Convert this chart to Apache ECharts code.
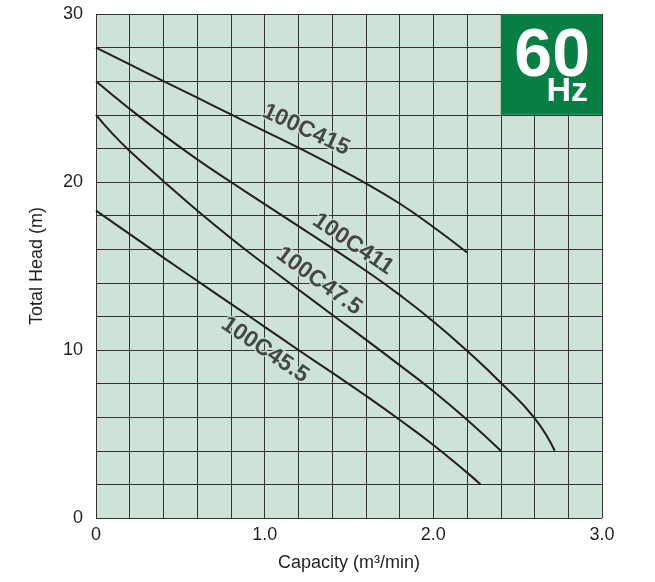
<!DOCTYPE html>
<html>
<head>
<meta charset="utf-8">
<script src="https://cdn.jsdelivr.net/npm/echarts@6/dist/echarts.min.js"></script>
<style>
html,body{margin:0;padding:0;background:#fff;}
#chart{width:655px;height:582px;}
</style>
</head>
<body>
<div id="chart"></div>
<script>
// ---- data ----
const modelNames = ['100C415', '100C411', '100C47.5', '100C45.5'];

const capacity415 = [0, 0.2, 0.4, 0.6, 0.8, 1.0, 1.2, 1.4, 1.6, 1.8, 2.0, 2.2];
const head415     = [28.0, 27.0, 26.0, 25.02, 24.02, 23.03, 22.04, 21.0, 19.92, 18.72, 17.32, 15.8];

const capacity411 = [0, 0.2, 0.4, 0.6, 0.8, 1.0, 1.2, 1.4, 1.6, 1.8, 2.0, 2.2, 2.4, 2.6, 2.72];
const head411     = [26.0, 24.35, 22.8, 21.35, 20.0, 18.68, 17.37, 16.06, 14.72, 13.28, 11.7, 9.95, 8.05, 5.95, 4.0];

const capacity475 = [0, 0.1, 0.2, 0.4, 0.6, 0.8, 1.0, 1.2, 1.4, 1.6, 1.8, 2.0, 2.2, 2.4];
const head475     = [24.0, 22.85, 21.85, 20.05, 18.3, 16.65, 15.1, 13.6, 12.1, 10.62, 9.1, 7.55, 5.85, 4.0];

const capacity455 = [0, 0.2, 0.4, 0.6, 0.8, 1.0, 1.2, 1.4, 1.6, 1.8, 2.0, 2.2, 2.28];
const head455     = [18.3, 16.9, 15.5, 14.12, 12.75, 11.38, 10.0, 8.65, 7.28, 5.85, 4.35, 2.7, 2.0];

const xTickValues = [0, 1, 2, 3];
const xTickLabels = ['0', '1.0', '2.0', '3.0'];
const yTickValues = [0, 10, 20, 30];
const yTickLabels = ['0', '10', '20', '30'];

const badgeMain = '60';
const badgeSub = 'Hz';
const badgeArea = [[2.4, 24], [3.0, 30]];

// label anchors (data coordinates) and rotation
const labelCapacity = [1.245, 1.524, 1.322, 1.002];
const labelHead     = [23.1, 16.3, 14.1, 10.0];
const labelAngle    = [-25, -34, -36, -34];

// ---- chart ----
const FONT = '"Liberation Sans", Arial, Helvetica, sans-serif';
const BG = '#cee3d7';
const INK = '#231f20';
const zip = (xs, ys) => xs.map((x, i) => [x, ys[i]]);
const pick = (vals, labels) => v => {
  for (let i = 0; i < vals.length; i++) if (Math.abs(v - vals[i]) < 1e-6) return labels[i];
  return '';
};

const curves = [
  zip(capacity415, head415),
  zip(capacity411, head411),
  zip(capacity475, head475),
  zip(capacity455, head455)
];

const lineSeries = curves.map((d, i) => ({
  type: 'line',
  name: modelNames[i],
  data: d,
  smooth: 0.5,
  symbol: 'none',
  lineStyle: { color: INK, width: 2 },
  z: 3,
  silent: true
}));

lineSeries[0].markArea = {
  silent: true,
  itemStyle: { color: '#077f44', opacity: 1 },
  label: {
    show: true,
    position: 'insideTopRight',
    distance: 5,
    offset: [-7, 4],
    formatter: badgeMain,
    fontFamily: FONT, fontSize: 68, fontWeight: 'bold', color: '#ffffff'
  },
  data: [[{ coord: badgeArea[0] }, { coord: badgeArea[1] }]]
};
lineSeries[1].markArea = {
  silent: true,
  itemStyle: { color: 'rgba(0,0,0,0)' },
  label: {
    show: true,
    position: 'insideBottomRight',
    distance: 6,
    offset: [-8, 0],
    formatter: badgeSub,
    fontFamily: FONT, fontSize: 34, fontWeight: 'bold', color: '#ffffff'
  },
  data: [[{ coord: badgeArea[0] }, { coord: badgeArea[1] }]]
};

const labelSeries = {
  type: 'scatter',
  symbolSize: 0,
  silent: true,
  z: 5,
  data: modelNames.map((n, i) => ({
    name: n,
    value: [labelCapacity[i], labelHead[i]],
    label: { rotate: labelAngle[i] }
  })),
  label: {
    show: true,
    position: 'inside',
    formatter: p => p.name,
    fontFamily: FONT,
    fontSize: 23,
    fontWeight: 'bold',
    color: INK,
    textBorderColor: BG,
    textBorderWidth: 3
  }
};

const chart = echarts.init(document.getElementById('chart'), null, { renderer: 'canvas' });
chart.setOption({
  animation: false,
  backgroundColor: '#ffffff',
  grid: {
    left: 96, top: 14, right: 53, bottom: 64,
    show: true, backgroundColor: BG, borderWidth: 0
  },
  xAxis: {
    type: 'value', min: 0, max: 3, interval: 0.2,
    name: 'Capacity (m³/min)',
    nameLocation: 'middle', nameGap: 36,
    nameTextStyle: { fontFamily: FONT, fontSize: 18, color: INK },
    axisLine: { show: false },
    axisTick: { show: false },
    axisLabel: {
      formatter: pick(xTickValues, xTickLabels),
      fontFamily: FONT, fontSize: 18, color: INK, margin: 8,
      showMinLabel: true, showMaxLabel: true
    },
    splitLine: { show: true, lineStyle: { color: '#333333', width: 1 } }
  },
  yAxis: {
    type: 'value', min: 0, max: 30, interval: 2,
    name: 'Total Head (m)',
    nameLocation: 'middle', nameGap: 50,
    nameTextStyle: { fontFamily: FONT, fontSize: 18, color: INK },
    axisLine: { show: false },
    axisTick: { show: false },
    axisLabel: {
      formatter: pick(yTickValues, yTickLabels),
      fontFamily: FONT, fontSize: 18, color: INK, margin: 13,
      showMinLabel: true, showMaxLabel: true
    },
    splitLine: { show: true, lineStyle: { color: '#333333', width: 1 } }
  },
  series: lineSeries.concat([labelSeries])
});
</script>
</body>
</html>
